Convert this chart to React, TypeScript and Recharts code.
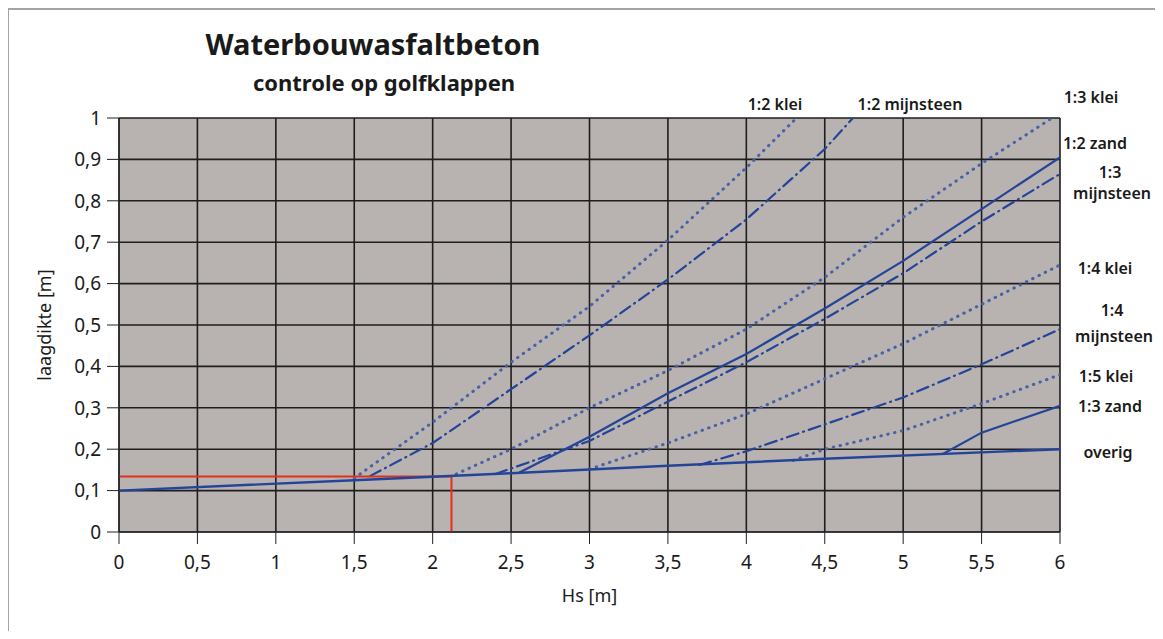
import { LineChart, Line, XAxis, YAxis, CartesianGrid, Label } from "recharts";

// Hs [m] -> laagdikte [m]
const xTicks = [0, 0.5, 1, 1.5, 2, 2.5, 3, 3.5, 4, 4.5, 5, 5.5, 6];
const yTicks = [0, 0.1, 0.2, 0.3, 0.4, 0.5, 0.6, 0.7, 0.8, 0.9, 1];

const overig = [
  { x: 0, y: 0.1 },
  { x: 1.5, y: 0.125 },
  { x: 2.5, y: 0.142 },
  { x: 3.5, y: 0.16 },
  { x: 4.5, y: 0.177 },
  { x: 6, y: 0.2 },
];
const klei12 = [
  { x: 1.5, y: 0.13 },
  { x: 2, y: 0.265 },
  { x: 2.5, y: 0.41 },
  { x: 3, y: 0.545 },
  { x: 3.5, y: 0.705 },
  { x: 4, y: 0.88 },
  { x: 4.32, y: 1.0 },
];
const mijnsteen12 = [
  { x: 1.6, y: 0.135 },
  { x: 2, y: 0.215 },
  { x: 2.5, y: 0.345 },
  { x: 3, y: 0.475 },
  { x: 3.5, y: 0.61 },
  { x: 4, y: 0.755 },
  { x: 4.5, y: 0.925 },
  { x: 4.68, y: 1.0 },
];
const klei13 = [
  { x: 2.15, y: 0.14 },
  { x: 2.5, y: 0.2 },
  { x: 3, y: 0.3 },
  { x: 3.5, y: 0.39 },
  { x: 4, y: 0.49 },
  { x: 4.5, y: 0.615 },
  { x: 5, y: 0.76 },
  { x: 5.5, y: 0.89 },
  { x: 5.95, y: 1.0 },
];
const zand12 = [
  { x: 2.55, y: 0.143 },
  { x: 3, y: 0.23 },
  { x: 3.5, y: 0.335 },
  { x: 4, y: 0.43 },
  { x: 4.5, y: 0.54 },
  { x: 5, y: 0.655 },
  { x: 5.5, y: 0.78 },
  { x: 6, y: 0.905 },
];
const mijnsteen13 = [
  { x: 2.4, y: 0.14 },
  { x: 3, y: 0.22 },
  { x: 3.5, y: 0.315 },
  { x: 4, y: 0.41 },
  { x: 4.5, y: 0.515 },
  { x: 5, y: 0.625 },
  { x: 5.5, y: 0.75 },
  { x: 6, y: 0.865 },
];
const klei14 = [
  { x: 3.0, y: 0.152 },
  { x: 3.5, y: 0.215 },
  { x: 4, y: 0.285 },
  { x: 4.5, y: 0.37 },
  { x: 5, y: 0.455 },
  { x: 5.5, y: 0.55 },
  { x: 6, y: 0.645 },
];
const mijnsteen14 = [
  { x: 3.7, y: 0.162 },
  { x: 4, y: 0.195 },
  { x: 4.5, y: 0.26 },
  { x: 5, y: 0.325 },
  { x: 5.5, y: 0.405 },
  { x: 6, y: 0.49 },
];
const klei15 = [
  { x: 4.3, y: 0.173 },
  { x: 4.5, y: 0.2 },
  { x: 5, y: 0.245 },
  { x: 5.5, y: 0.31 },
  { x: 6, y: 0.38 },
];
const zand13 = [
  { x: 5.25, y: 0.188 },
  { x: 5.5, y: 0.24 },
  { x: 6, y: 0.305 },
];
const redH = [
  { x: 0, y: 0.134 },
  { x: 2.12, y: 0.134 },
];
const redV = [
  { x: 2.12, y: 0.134 },
  { x: 2.12, y: 0 },
];

const seriesLabels = [
  { text: "1:2 klei", left: 732, top: 85, width: 70 },
  { text: "1:2 mijnsteen", left: 842, top: 85, width: 120 },
  { text: "1:3 klei", left: 1038, top: 78, width: 90 },
  { text: "1:2 zand", left: 1042, top: 124, width: 90 },
  { text: "1:3", left: 1057, top: 153, width: 90 },
  { text: "mijnsteen", left: 1059, top: 174, width: 90 },
  { text: "1:4 klei", left: 1052, top: 249, width: 90 },
  { text: "1:4", left: 1059, top: 291, width: 90 },
  { text: "mijnsteen", left: 1061, top: 317, width: 90 },
  { text: "1:5 klei", left: 1053, top: 357, width: 90 },
  { text: "1:3 zand", left: 1057, top: 387, width: 90 },
  { text: "overig", left: 1055, top: 433, width: 90 },
];

const FONT = "'Noto Sans', sans-serif";
const solid = "#24449a";
const dotted = "#4862a8";
const fmt = (v: number) => String(v).replace(".", ",");

export default function App() {
  return (
    <div style={{ position: "relative", width: 1147, height: 623, fontFamily: FONT }}>
      <div
        style={{
          position: "absolute",
          left: -1,
          top: 0,
          width: 1152,
          height: 625,
          border: "2px solid #a3a3a3",
          boxSizing: "border-box",
        }}
      />
      <div
        style={{
          position: "absolute",
          left: 155,
          top: 16,
          width: 420,
          textAlign: "center",
          fontWeight: 700,
          fontSize: 29,
          color: "#1a1a1a",
        }}
      >
        Waterbouwasfaltbeton
      </div>
      <div
        style={{
          position: "absolute",
          left: 166,
          top: 59,
          width: 420,
          textAlign: "center",
          fontWeight: 700,
          fontSize: 22,
          color: "#1a1a1a",
        }}
      >
        controle op golfklappen
      </div>
      {seriesLabels.map((l, i) => (
        <div
          key={i}
          style={{
            position: "absolute",
            left: l.left,
            top: l.top,
            width: l.width,
            textAlign: "center",
            fontSize: 16,
            fontWeight: 600,
            color: "#1a1a1a",
            whiteSpace: "nowrap",
          }}
        >
          {l.text}
        </div>
      ))}
      <LineChart
        width={1147}
        height={623}
        margin={{ top: 110, right: 95, bottom: 29, left: 41 }}
        style={{ position: "absolute", left: 0, top: 0 }}
      >
        <CartesianGrid stroke="#1e1e1e" strokeWidth={1.6} fill="#b8b3b1" fillOpacity={1} />
        <XAxis
          type="number"
          dataKey="x"
          domain={[0, 6]}
          ticks={xTicks}
          tickFormatter={fmt}
          height={70}
          tickSize={12}
          tickMargin={12}
          stroke="#222"
          tick={{ fill: "#1a1a1a", fontSize: 19, fontFamily: FONT }}
          allowDataOverflow
        >
          <Label value="Hs [m]" position="insideBottom" offset={0} style={{ fill: "#1a1a1a", fontSize: 18, fontFamily: FONT }} />
        </XAxis>
        <YAxis
          type="number"
          dataKey="y"
          domain={[0, 1]}
          ticks={yTicks}
          tickFormatter={fmt}
          width={70}
          tickSize={12}
          tickMargin={6}
          stroke="#222"
          tick={{ fill: "#1a1a1a", fontSize: 19, fontFamily: FONT }}
          allowDataOverflow
        >
          <Label
            value="laagdikte [m]"
            angle={-90}
            position="insideLeft"
            offset={-4}
            style={{ textAnchor: "middle", fill: "#1a1a1a", fontSize: 18, fontFamily: FONT }}
          />
        </YAxis>
        <Line data={klei12} dataKey="y" stroke={dotted} strokeWidth={3} strokeDasharray="0.5 6.5" strokeLinecap="round" dot={false} activeDot={false} isAnimationActive={false} />
        <Line data={mijnsteen12} dataKey="y" stroke={solid} strokeWidth={2.2} strokeDasharray="12 5 1 5" strokeLinecap="round" dot={false} activeDot={false} isAnimationActive={false} />
        <Line data={klei13} dataKey="y" stroke={dotted} strokeWidth={3} strokeDasharray="0.5 6.5" strokeLinecap="round" dot={false} activeDot={false} isAnimationActive={false} />
        <Line data={zand12} dataKey="y" stroke={solid} strokeWidth={2.2} dot={false} activeDot={false} isAnimationActive={false} />
        <Line data={mijnsteen13} dataKey="y" stroke={solid} strokeWidth={2.2} strokeDasharray="12 5 1 5" strokeLinecap="round" dot={false} activeDot={false} isAnimationActive={false} />
        <Line data={klei14} dataKey="y" stroke={dotted} strokeWidth={3} strokeDasharray="0.5 6.5" strokeLinecap="round" dot={false} activeDot={false} isAnimationActive={false} />
        <Line data={mijnsteen14} dataKey="y" stroke={solid} strokeWidth={2.2} strokeDasharray="12 5 1 5" strokeLinecap="round" dot={false} activeDot={false} isAnimationActive={false} />
        <Line data={klei15} dataKey="y" stroke={dotted} strokeWidth={3} strokeDasharray="0.5 6.5" strokeLinecap="round" dot={false} activeDot={false} isAnimationActive={false} />
        <Line data={zand13} dataKey="y" stroke={solid} strokeWidth={2.2} dot={false} activeDot={false} isAnimationActive={false} />
        <Line data={redH} dataKey="y" stroke="#e0301e" strokeWidth={2} dot={false} activeDot={false} isAnimationActive={false} />
        <Line data={redV} dataKey="y" stroke="#e0301e" strokeWidth={2} dot={false} activeDot={false} isAnimationActive={false} />
        <Line data={overig} dataKey="y" stroke={solid} strokeWidth={2.4} dot={false} activeDot={false} isAnimationActive={false} />
      </LineChart>
    </div>
  );
}
